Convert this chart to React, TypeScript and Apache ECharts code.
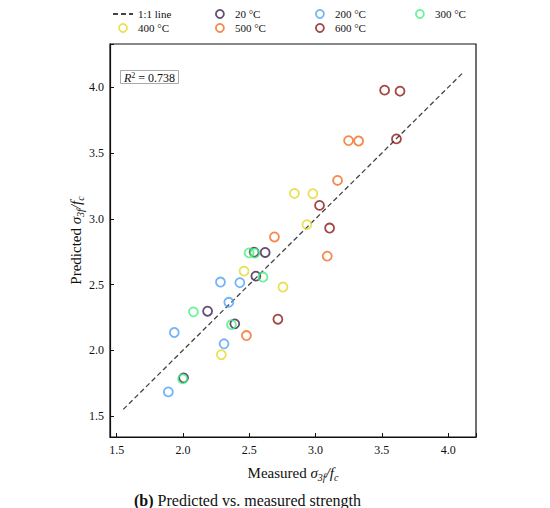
import React, { useEffect, useRef } from 'react';
import * as echarts from 'echarts';

const seriesNames = ['20 °C', '200 °C', '300 °C', '400 °C', '500 °C', '600 °C'];
const seriesColors = ['#3b1f4f', '#4da3f5', '#45ef7b', '#e3da2a', '#f26a21', '#8e1515'];

// [measured, predicted]
const points20 = [[2.537, 2.746], [2.620, 2.744], [2.550, 2.564], [2.186, 2.297], [2.391, 2.201], [2.005, 1.790]];
const points200 = [[2.283, 2.519], [2.429, 2.514], [2.346, 2.365], [1.935, 2.135], [2.310, 2.049], [1.890, 1.683]];
const points300 = [[2.499, 2.741], [2.542, 2.739], [2.603, 2.557], [2.079, 2.292], [2.366, 2.195], [1.998, 1.782]];
const points400 = [[2.841, 3.193], [2.980, 3.191], [2.935, 2.956], [2.461, 2.602], [2.754, 2.481], [2.290, 1.966]];
const points500 = [[3.249, 3.595], [3.325, 3.592], [3.166, 3.292], [2.690, 2.862], [3.088, 2.716], [2.479, 2.112]];
const points600 = [[3.521, 3.979], [3.637, 3.971], [3.610, 3.608], [3.030, 3.102], [3.106, 2.930], [2.716, 2.236]];
const allPoints = [points20, points200, points300, points400, points500, points600];

const lineName = '1:1 line';
const lineEnds = [1.55, 4.11];

const xRange = [1.45, 4.21];
const yRange = [1.34, 4.33];
const r2Text = '0.738';
const captionText = ' Predicted vs. measured strength';

const FONT = 'Liberation Serif';
const INK = '#111';

const mathRich = (size: number) => ({
  n: { fontFamily: FONT, fontSize: size, color: INK, lineHeight: size + 4, fontWeight: 'normal' },
  i: { fontFamily: FONT, fontSize: size, fontStyle: 'italic', color: INK, lineHeight: size + 4, fontWeight: 'normal' },
  s: {
    fontFamily: FONT,
    fontSize: Math.round(size * 0.68),
    fontStyle: 'italic',
    color: INK,
    lineHeight: Math.round(size * 0.68),
    verticalAlign: 'bottom',
    fontWeight: 'normal',
  },
});

const tickFmt = (v: number) => (Math.abs(v * 2 - Math.round(v * 2)) < 1e-6 ? v.toFixed(1) : '');

export default function App() {
  const ref = useRef<HTMLDivElement>(null);
  useEffect(() => {
    if (!ref.current) return;
    const chart = echarts.init(ref.current, undefined, { renderer: 'svg' });

    const scatterSeries = seriesNames.map((name, k) => ({
      name,
      type: 'scatter',
      symbol: 'circle',
      symbolSize: 9,
      itemStyle: { color: 'transparent', borderColor: seriesColors[k], borderWidth: 1.8 },
      data: allPoints[k],
      z: 3,
    }));

    const legendItem = (name: string) => {
      if (name === lineName) {
        return { name, itemStyle: { color: 'transparent', borderWidth: 0, opacity: 0 } };
      }
      const k = seriesNames.indexOf(name);
      return {
        name,
        icon: 'circle',
        itemStyle: { color: 'transparent', borderColor: seriesColors[k], borderWidth: 1.8 },
      };
    };
    const legendCols = [
      { left: 112, items: [lineName, seriesNames[3]] },
      { left: 215, items: [seriesNames[0], seriesNames[4]] },
      { left: 315, items: [seriesNames[1], seriesNames[5]] },
      { left: 415, items: [seriesNames[2]] },
    ];

    const option: any = {
      animation: false,
      backgroundColor: '#fff',
      title: [
        {
          text: '{i|R}{sup|2}{n| = ' + r2Text + '}',
          left: 120,
          top: 70,
          padding: [1, 4, 0, 4],
          borderColor: '#aaa',
          borderWidth: 1,
          backgroundColor: '#fff',
          textStyle: {
            fontWeight: 'normal',
            rich: {
              i: { fontFamily: FONT, fontSize: 12, fontStyle: 'italic', color: INK, lineHeight: 14, fontWeight: 'normal' },
              sup: { fontFamily: FONT, fontSize: 8, color: INK, lineHeight: 8, verticalAlign: 'top', fontWeight: 'normal' },
              n: { fontFamily: FONT, fontSize: 12, color: INK, lineHeight: 14, fontWeight: 'normal' },
            },
          },
        },
        {
          text: '{b|(b)}{n|' + captionText + '}',
          left: 134,
          top: 492,
          padding: 0,
          textStyle: {
            fontWeight: 'normal',
            rich: {
              b: { fontFamily: FONT, fontSize: 16, fontWeight: 'bold', color: INK },
              n: { fontFamily: FONT, fontSize: 16, fontWeight: 'normal', color: INK },
            },
          },
        },
      ],
      legend: legendCols.map((c) => ({
        orient: 'vertical',
        left: c.left,
        top: 7,
        padding: 0,
        itemGap: 0,
        itemWidth: 20,
        itemHeight: 8,
        textStyle: { fontFamily: FONT, fontSize: 11, color: INK, lineHeight: 14 },
        data: c.items.map(legendItem),
        selectedMode: false,
      })),
      grid: {
        left: 110,
        top: 44,
        right: 74,
        bottom: 71,
        show: true,
        borderColor: INK,
        borderWidth: 1.2,
        backgroundColor: 'transparent',
      },
      xAxis: {
        type: 'value',
        min: xRange[0],
        max: xRange[1],
        splitNumber: 5,
        name: '{n|Measured }{i|σ}{s|3f}{i|/f}{s|c}',
        nameLocation: 'middle',
        nameGap: 26,
        nameMoveOverlap: false,
        nameTextStyle: { rich: mathRich(15) },
        axisLine: { lineStyle: { color: INK, width: 1.2 } },
        axisTick: { inside: true, length: 4, lineStyle: { color: INK } },
        axisLabel: { formatter: tickFmt, fontFamily: FONT, fontSize: 12, color: INK, margin: 7 },
        splitLine: { show: false },
      },
      yAxis: {
        type: 'value',
        min: yRange[0],
        max: yRange[1],
        splitNumber: 5,
        name: '{n|Predicted }{i|σ}{s|3f}{i|/f}{s|c}',
        nameLocation: 'middle',
        nameGap: 25,
        nameMoveOverlap: false,
        nameTextStyle: { rich: mathRich(15) },
        axisLine: { lineStyle: { color: INK, width: 1.2 } },
        axisTick: { inside: true, length: 4, lineStyle: { color: INK } },
        axisLabel: { formatter: tickFmt, fontFamily: FONT, fontSize: 12, color: INK, margin: 6 },
        splitLine: { show: false },
      },
      series: [
        {
          name: lineName,
          type: 'line',
          symbol: 'none',
          data: [[lineEnds[0], lineEnds[0]], [lineEnds[1], lineEnds[1]]],
          itemStyle: { color: '#444' },
          lineStyle: { color: '#444', width: 1.3, type: [5, 3] },
          z: 2,
        },
        ...scatterSeries,
      ],
    };
    chart.setOption(option);
    return () => chart.dispose();
  }, []);
  return (
    <div
      ref={ref}
      style={{ position: 'fixed', left: 0, top: 0, width: 550, height: 508 }}
    />
  );
}
